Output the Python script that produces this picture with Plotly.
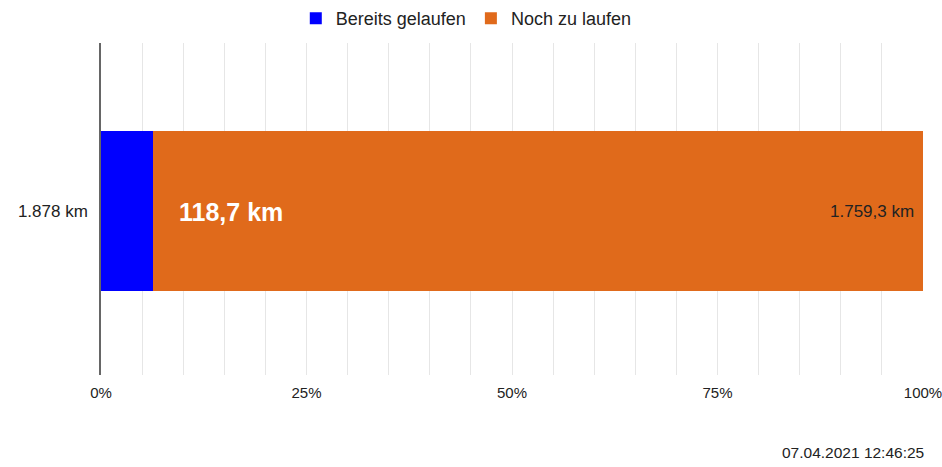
import plotly.graph_objects as go

categories = ["1.878 km"]
series_names = ["Bereits gelaufen", "Noch zu laufen"]
done_km = [118.7]
remaining_km = [1759.3]
done_label = "118,7 km"
remaining_label = "1.759,3 km"
tick_vals = [0, 25, 50, 75, 100]
tick_text = ["0%", "25%", "50%", "75%", "100%"]
timestamp = "07.04.2021 12:46:25"

total = [d + r for d, r in zip(done_km, remaining_km)]
done_pct = [d / t * 100 for d, t in zip(done_km, total)]
rem_pct = [r / t * 100 for r, t in zip(remaining_km, total)]

FONT = "Liberation Sans"

fig = go.Figure()
fig.add_trace(go.Bar(y=categories, x=done_pct, orientation="h", name=series_names[0],
                     marker=dict(color="#0000ff", line=dict(width=0)), hoverinfo="skip"))
fig.add_trace(go.Bar(y=categories, x=rem_pct, orientation="h", name=series_names[1],
                     marker=dict(color="#e06a1b", line=dict(width=0)), hoverinfo="skip"))

fig.add_annotation(x=done_pct[0], y=categories[0], text=f"<b>{done_label}</b>", showarrow=False,
                   xanchor="left", xshift=24, yshift=-1, font=dict(color="white", size=25, family=FONT))
fig.add_annotation(x=100, y=categories[0], text=remaining_label, showarrow=False,
                   xanchor="right", xshift=-7, yshift=-1, font=dict(color="#222222", size=17, family=FONT))
fig.add_annotation(xref="paper", yref="paper", x=1.004, y=-0.233, text=timestamp, showarrow=False,
                   xanchor="right", yanchor="middle", font=dict(color="#222222", size=15.5, family=FONT))

fig.update_layout(
    width=942, height=467,
    barmode="stack", bargap=0.518,
    plot_bgcolor="white", paper_bgcolor="white",
    margin=dict(l=101, r=19, t=43, b=92, autoexpand=False),
    font=dict(family=FONT, size=15, color="#222222"),
    legend=dict(orientation="h", xref="container", yref="container", x=0.495, xanchor="center",
                y=1.0, yanchor="top", font=dict(size=18, color="#222222"), traceorder="normal",
                itemwidth=30),
    xaxis=dict(range=[0, 100], tickvals=tick_vals, ticktext=tick_text, showgrid=True,
               gridcolor="#e6e6e6", gridwidth=1, zeroline=False, showline=False,
               ticklabelstandoff=7, ticklabeloverflow="allow", tickfont=dict(size=15, color="#222222"),
               minor=dict(dtick=5, showgrid=True, gridcolor="#e6e6e6", gridwidth=1), fixedrange=True),
    yaxis=dict(showline=True, linecolor="#666666", linewidth=1.5, showgrid=False, zeroline=False,
               range=[-0.494, 0.506],
               tickfont=dict(size=17, color="#222222"), ticklabelstandoff=8, fixedrange=True),
)

fig.write_html("out.html", config={"displayModeBar": False},
               post_script="document.body.style.margin='0';")
